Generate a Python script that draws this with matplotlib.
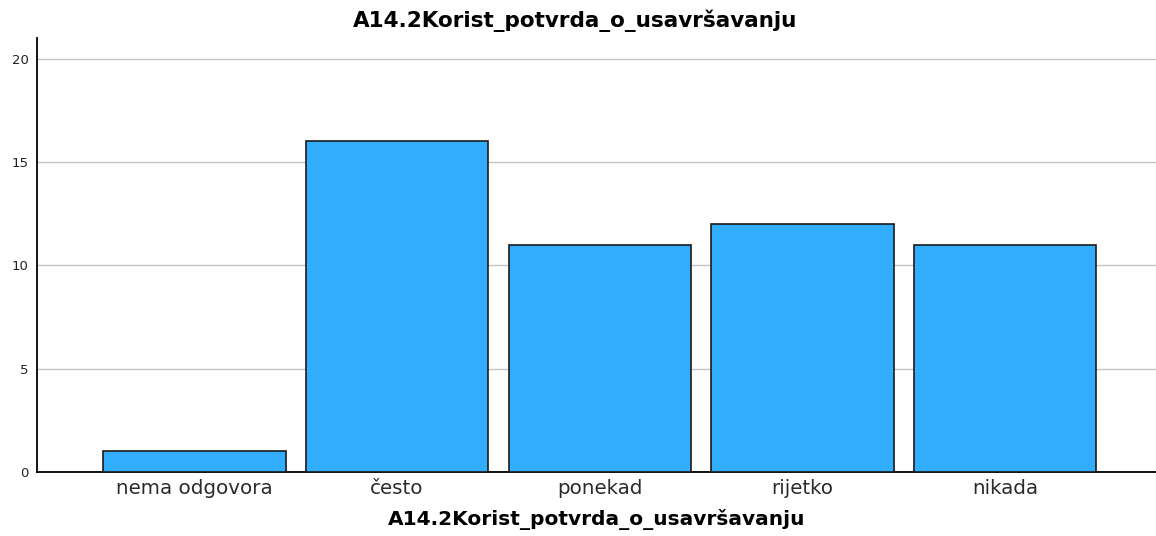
import matplotlib.pyplot as plt

plt.rcParams['font.family'] = ['DejaVu Sans']

# data
categories = ["nema odgovora", "često", "ponekad", "rijetko", "nikada"]
counts = [1, 16, 11, 12, 11]
yticks = [0, 5, 10, 15, 20]
title = "A14.2Korist_potvrda_o_usavršavanju"

fig = plt.figure(figsize=(11.56, 5.36), dpi=100)
ax = fig.add_axes([37/1156, 64/536, 1 - 37/1156, 434/536])

x = range(len(categories))
ax.bar(x, counts, width=0.9, color="#33adff", edgecolor="#1a1a1a", linewidth=1.2, zorder=3)

ax.set_xlim(-0.777, 4.745)
ax.set_ylim(0, 21)
ax.set_yticks(yticks)
ax.set_xticks(list(x))
ax.set_xticklabels(categories, fontsize=14.3, color="#2a2a2a")
ax.tick_params(axis='y', labelsize=9.5, length=0, pad=6, colors="#222222")
ax.tick_params(axis='x', length=0, pad=5)
ax.yaxis.grid(True, color="#c4c4c4", linewidth=1)
ax.set_axisbelow(True)

for s in ["top", "right"]:
    ax.spines[s].set_visible(False)
ax.spines["left"].set_linewidth(1.3)
ax.spines["bottom"].set_linewidth(1.3)

fig.text(575/1156, 1 - 27/536, title, fontsize=15.5, fontweight="bold", ha="center", va="baseline")
ax.set_xlabel(title, fontsize=14.5, fontweight="bold", labelpad=8)

fig.savefig("out.png", dpi=100)
